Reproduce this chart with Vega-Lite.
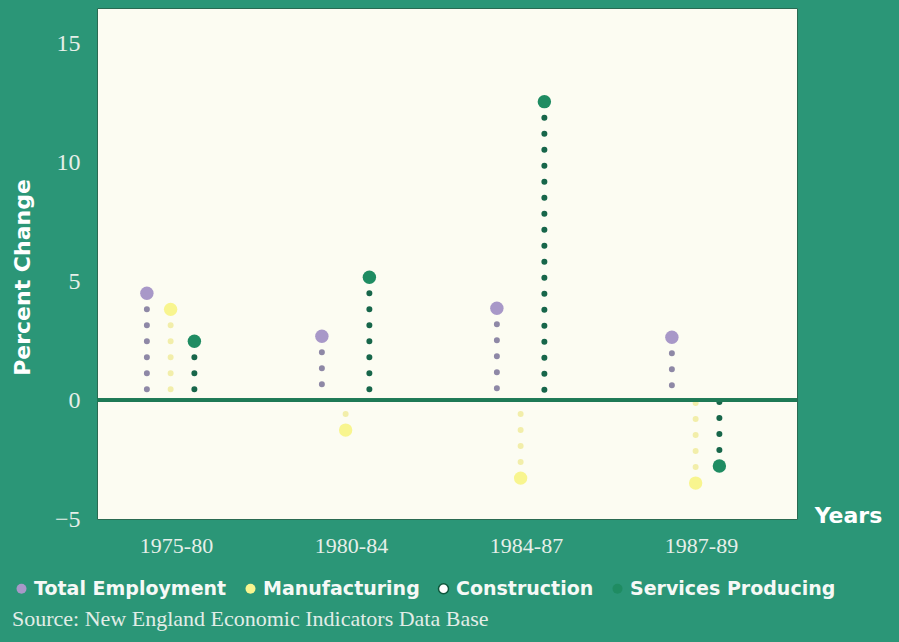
{
  "$schema": "https://vega.github.io/schema/vega-lite/v6.json",
  "autosize": {"type": "none"},
  "padding": {"left": 97, "top": 8, "right": 102, "bottom": 123},
  "width": 700,
  "height": 511,
  "background": "#2b9677",
  "view": {"fill": "#fcfcf2", "stroke": "#2a6a52", "strokeWidth": 1},
  "data": {
    "values": [
      {"period": "1975-80", "series": "Total Employment", "value": 4.5},
      {"period": "1975-80", "series": "Manufacturing", "value": 3.82},
      {"period": "1975-80", "series": "Services Producing", "value": 2.48},
      {"period": "1980-84", "series": "Total Employment", "value": 2.69},
      {"period": "1980-84", "series": "Manufacturing", "value": -1.26},
      {"period": "1980-84", "series": "Services Producing", "value": 5.17},
      {"period": "1984-87", "series": "Total Employment", "value": 3.87},
      {"period": "1984-87", "series": "Manufacturing", "value": -3.28},
      {"period": "1984-87", "series": "Services Producing", "value": 12.56},
      {"period": "1987-89", "series": "Total Employment", "value": 2.65},
      {"period": "1987-89", "series": "Manufacturing", "value": -3.49},
      {"period": "1987-89", "series": "Services Producing", "value": -2.77}
    ]
  },
  "layer": [
    {
      "mark": {"type": "rule", "strokeDash": [0, 16], "strokeCap": "round", "strokeWidth": 6},
      "encoding": {
        "x": {
          "field": "period",
          "type": "nominal",
          "sort": ["1975-80", "1980-84", "1984-87", "1987-89"],
          "scale": {"paddingInner": 0, "paddingOuter": 0},
          "axis": {
            "domain": false,
            "ticks": false,
            "labelAngle": 0,
            "labelOffset": -8,
            "labelPadding": 16,
            "labelFont": "Liberation Serif",
            "labelFontSize": 22,
            "labelColor": "#e6efe9",
            "title": "Years",
            "titleFont": "DejaVu Sans",
            "titleFontWeight": "bold",
            "titleFontSize": 22,
            "titleColor": "#ffffff",
            "titleX": 751,
            "titleY": -4,
            "titleAlign": "center",
            "titleBaseline": "middle"
          }
        },
        "xOffset": {
          "field": "series",
          "type": "nominal",
          "scale": {
            "domain": ["Total Employment", "Manufacturing", "Services Producing", "Construction"],
            "range": [38, 133],
            "paddingInner": 0,
            "paddingOuter": 0
          }
        },
        "y": {
          "field": "value",
          "type": "quantitative",
          "scale": {"domain": [-5, 16.5], "nice": false},
          "axis": {
            "values": [-5, 0, 5, 10, 15],
            "domain": false,
            "ticks": false,
            "grid": false,
            "labelPadding": 17,
            "labelFont": "Liberation Serif",
            "labelFontSize": 24,
            "labelColor": "#e6efe9",
            "title": "Percent Change",
            "titleFont": "DejaVu Sans",
            "titleFontWeight": "bold",
            "titleFontSize": 22,
            "titleColor": "#ffffff",
            "titleAngle": -90,
            "titleX": -75,
            "titleY": 269,
            "titleAlign": "center",
            "titleBaseline": "middle"
          }
        },
        "y2": {"datum": 0},
        "stroke": {
          "field": "series",
          "type": "nominal",
          "scale": {
            "domain": ["Total Employment", "Manufacturing", "Services Producing", "Construction"],
            "range": ["#8e88a6", "#f2eeaa", "#17664a", "#ffffff"]
          },
          "legend": null
        }
      }
    },
    {
      "mark": {"type": "rule", "color": "#1e7a56", "strokeWidth": 3},
      "encoding": {
        "y": {"datum": 0, "type": "quantitative"}
      }
    },
    {
      "mark": {"type": "point", "filled": true, "opacity": 1, "size": 180, "shape": "circle"},
      "encoding": {
        "x": {"field": "period", "type": "nominal", "sort": ["1975-80", "1980-84", "1984-87", "1987-89"]},
        "xOffset": {"field": "series", "type": "nominal"},
        "y": {"field": "value", "type": "quantitative"},
        "color": {
          "field": "series",
          "type": "nominal",
          "scale": {
            "domain": ["Total Employment", "Manufacturing", "Construction", "Services Producing"],
            "range": ["#a898c8", "#f8f58f", "#ffffff", "#1f8c62"]
          },
          "legend": {
            "orient": "none",
            "legendX": -85,
            "legendY": 571,
            "direction": "horizontal",
            "symbolType": "circle",
            "symbolSize": 100,
            "symbolOpacity": 1,
            "labelFont": "DejaVu Sans",
            "labelFontWeight": "bold",
            "labelFontSize": 19,
            "labelColor": "#f6f9f6",
            "labelOffset": 3,
            "labelLimit": 400,
            "columnPadding": 14,
            "title": "Source:  New England Economic Indicators Data Base",
            "titleOrient": "bottom",
            "titleAnchor": "start",
            "titleFont": "Liberation Serif",
            "titleFontWeight": "normal",
            "titleFontSize": 22,
            "titleColor": "#e2ede7",
            "titlePadding": 10,
            "titleLimit": 800,
            "encode": {
              "symbols": {
                "enter": {
                  "fill": {"signal": "datum.value == 'Total Employment' ? '#6a1b52' : datum.value == 'Manufacturing' ? '#f3ec2c' : datum.value == 'Construction' ? 'transparent' : '#eef4f0'"},
                  "stroke": {"signal": "datum.value == 'Construction' ? '#0e573c' : 'transparent'"},
                  "strokeWidth": {"value": 1.5}
                },
                "update": {
                  "fill": {"signal": "datum.value == 'Total Employment' ? '#6a1b52' : datum.value == 'Manufacturing' ? '#f3ec2c' : datum.value == 'Construction' ? 'transparent' : '#eef4f0'"},
                  "stroke": {"signal": "datum.value == 'Construction' ? '#0e573c' : 'transparent'"},
                  "strokeWidth": {"value": 1.5},
                  "opacity": {"value": 1}
                }
              }
            }
          }
        }
      }
    }
  ]
}
